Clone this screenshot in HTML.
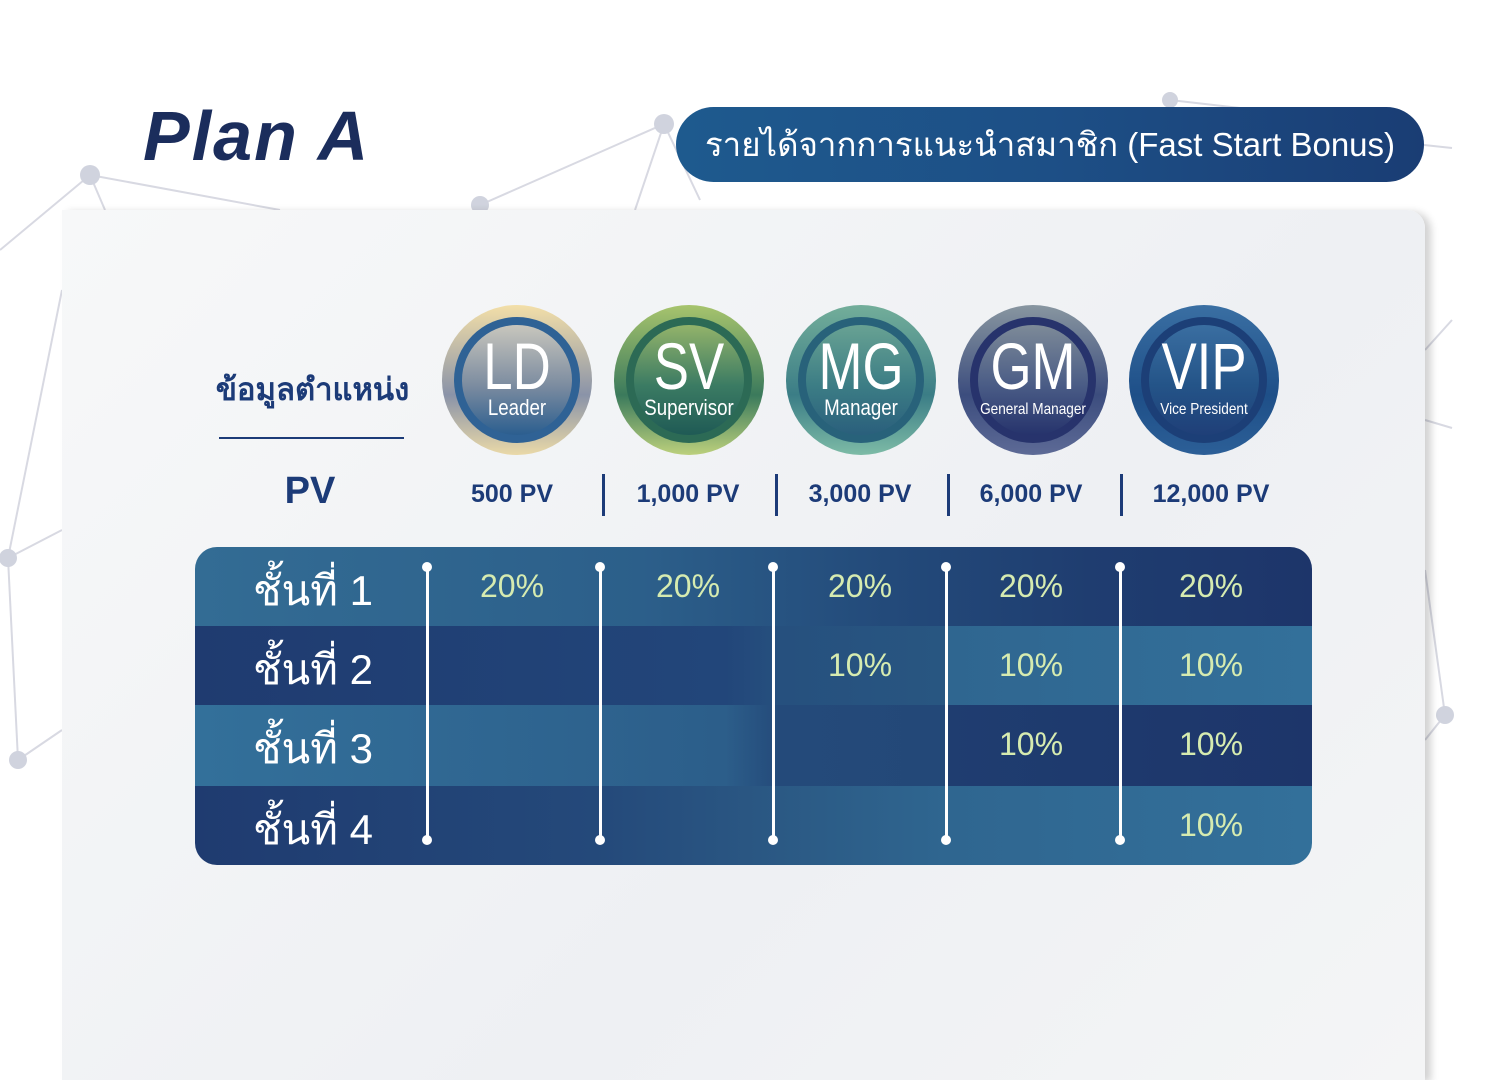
<!DOCTYPE html>
<html><head><meta charset="utf-8">
<style>
*{margin:0;padding:0;box-sizing:border-box}
body{width:1500px;height:1060px;overflow:hidden;background:#fff;position:relative;font-family:"Liberation Sans","DejaVu Sans",sans-serif}
.abs{position:absolute}
#title{left:143px;top:96px;font-size:70px;font-weight:bold;font-style:italic;color:#1b2d5c;letter-spacing:2px}
#pill{left:676px;top:107px;width:748px;height:75px;border-radius:38px;background:linear-gradient(90deg,#1e5a8e,#1d4f86 50%,#1a3d74);color:#fff;font-size:33px;line-height:75px;text-align:center}
#card{left:62px;top:210px;width:1363px;height:870px;border-radius:0 18px 0 0;background:linear-gradient(135deg,#f7f8f9,#eef0f3 60%,#f4f5f6);box-shadow:6px 2px 8px rgba(0,0,0,.18)}
#poslabel{left:200px;top:364px;width:225px;text-align:center;font-size:31px;font-weight:bold;color:#1c3b78}
#uline{left:219px;top:437px;width:185px;height:2px;background:#1c3b78}
#pv{left:260px;top:470px;width:100px;text-align:center;font-size:38px;font-weight:bold;color:#1c3b78}
.pvl{top:480px;width:160px;text-align:center;font-size:25px;font-weight:bold;color:#1c3b78}
.sep{top:474px;width:3px;height:42px;background:#1c3b78}
.badge{width:150px;height:150px;border-radius:50%}
.ring{position:absolute;left:12px;top:12px;width:126px;height:126px;border-radius:50%}
.inner{position:absolute;left:20px;top:20px;width:110px;height:110px;border-radius:50%}
.big{position:absolute;left:0;width:150px;text-align:center;color:#fff;top:26px;font-size:66px;line-height:70px;transform:scaleX(.8)}
.small{position:absolute;left:0;width:150px;text-align:center;color:#fff;top:90px;font-size:22px;transform:scaleX(.85)}
#table{left:195px;top:547px;width:1117px;height:318px;border-radius:22px;overflow:hidden}
.cell{position:absolute}
.rl{color:#fff;font-size:42px;left:58px}
.pct{color:#d6ebb0;font-size:32px;width:160px;text-align:center}
.vl{width:3px;background:#fff}
.dot{width:10px;height:10px;border-radius:50%;background:#fff}
</style></head><body>
<svg class="abs" width="1500" height="1060" style="left:0;top:0">
<g stroke="#d8d9e2" stroke-width="2" fill="none">
<line x1="0" y1="250" x2="90" y2="175"/><line x1="90" y1="175" x2="280" y2="210"/><line x1="90" y1="175" x2="105" y2="210"/>
<line x1="480" y1="205" x2="664" y2="124"/><line x1="664" y1="124" x2="635" y2="210"/><line x1="664" y1="124" x2="700" y2="200"/>
<line x1="1170" y1="100" x2="1240" y2="108"/><line x1="1424" y1="145" x2="1452" y2="148"/>
<line x1="8" y1="558" x2="62" y2="530"/><line x1="8" y1="558" x2="62" y2="290"/><line x1="8" y1="558" x2="18" y2="760"/><line x1="18" y1="760" x2="62" y2="730"/>
<line x1="1425" y1="570" x2="1445" y2="715"/><line x1="1445" y1="715" x2="1425" y2="740"/><line x1="1425" y1="350" x2="1452" y2="320"/><line x1="1425" y1="420" x2="1452" y2="428"/>
</g>
<g fill="#d0d3de"><circle cx="90" cy="175" r="10"/><circle cx="664" cy="124" r="10"/><circle cx="480" cy="205" r="9"/><circle cx="8" cy="558" r="9"/><circle cx="18" cy="760" r="9"/><circle cx="1445" cy="715" r="9"/><circle cx="1170" cy="100" r="8"/></g>
</svg>
<div id="title" class="abs">Plan A</div>
<div id="pill" class="abs">รายได้จากการแนะนำสมาชิก (Fast Start Bonus)</div>
<div id="card" class="abs"></div>
<div id="poslabel" class="abs">ข้อมูลตำแหน่ง</div>
<div id="uline" class="abs"></div>
<div id="pv" class="abs">PV</div>
<div id="badges"></div>
<div id="table" class="abs"></div>
<script>
const positions=["LD","SV","MG","GM","VIP"];
const positionNames=["Leader","Supervisor","Manager","General Manager","Vice President"];
const pvValues=["500 PV","1,000 PV","3,000 PV","6,000 PV","12,000 PV"];
const rowLabels=["ชั้นที่ 1","ชั้นที่ 2","ชั้นที่ 3","ชั้นที่ 4"];
const tier1=[20,20,20,20,20];
const tier2=[null,null,10,10,10];
const tier3=[null,null,null,10,10];
const tier4=[null,null,null,null,10];
const tiers=[tier1,tier2,tier3,tier4];

const colX=[517,689,861,1033,1204];
const pvX=[512,688,860,1031,1211];
const lineX=[427,600,773,946,1120];
const grads=[
 ["linear-gradient(180deg,#f3dfa8,#8a93a8 60%,#ead9a8)","#2f6295","linear-gradient(180deg,#c8c6bd,#7c8ca0 55%,#2b5e8f)"],
 ["linear-gradient(180deg,#a7c46d,#3b7a5c 60%,#bcd07c)","#2c6a55","linear-gradient(180deg,#93b36a,#3b7b63 55%,#1f5a55)"],
 ["linear-gradient(180deg,#73ae9a,#3b7d86 60%,#7dbba6)","#28627a","linear-gradient(180deg,#68a293,#3c7d85 55%,#2a5f7c)"],
 ["linear-gradient(180deg,#8896a0,#3c4d7e 60%,#5d6a96)","#27336c","linear-gradient(180deg,#7d8a98,#4a5c86 55%,#26336c)"],
 ["linear-gradient(180deg,#3a6fa3,#1e4f88 60%,#2c5f97)","#1c3f77","linear-gradient(180deg,#3a6ea1,#245488 55%,#1f3f78)"]
];
const B=document.getElementById('badges');
positions.forEach((p,i)=>{
 const b=document.createElement('div');
 b.className='abs badge';
 
 
 b.style.left=(colX[i]-75)+'px';b.style.top='305px';b.style.background=grads[i][0];
 b.innerHTML='<div class="ring" style="background:'+grads[i][1]+'"></div><div class="inner" style="background:'+grads[i][2]+'"></div><div class="big">'+p+'</div><div class="small" style="'+(i>=3?'font-size:16px;top:96px':'')+'">'+positionNames[i]+'</div>';
 B.appendChild(b);
 const l=document.createElement('div');
 l.className='abs pvl';
 
 
 l.style.left=(pvX[i]-80)+'px';l.textContent=pvValues[i];
 B.appendChild(l);
 if(i<4){const s=document.createElement('div');s.className='abs sep';
 
 
 s.style.left=[602,775,947,1120][i]+'px';B.appendChild(s);}
});
const T=document.getElementById('table');
const rowTop=[0,79,158,239,318];
const rowBg=[
 'linear-gradient(90deg,#336c94,#2c5f8a 40%,#234a7a 62%,#1f3d70 80%,#1d356a)',
 'linear-gradient(90deg,#1f3b70,#22467a 530px,#26507e 585px,#285681 750px,#2f6690 752px,#33709a)',
 'linear-gradient(90deg,#33709a,#2c5e8a 530px,#244a7a 585px,#234878 750px,#1f3d70 752px,#1d356a)',
 'linear-gradient(90deg,#1f3b70,#24497a 400px,#2b5984 585px,#2f6690 752px,#33709a)'
];
rowLabels.forEach((r,j)=>{
 const row=document.createElement('div');
 row.className='cell';
 
 
 row.style.cssText='left:0;width:1117px;top:'+rowTop[j]+'px;height:'+(rowTop[j+1]-rowTop[j])+'px;background:'+rowBg[j];
 T.appendChild(row);
 const lab=document.createElement('div');
 lab.className='cell rl';
 
 
 lab.style.top=(rowTop[j]+11)+'px';lab.textContent=r;
 T.appendChild(lab);
 tiers[j].forEach((v,i)=>{
  if(v==null)return;
  const c=document.createElement('div');
  c.className='cell pct';
  
  
  c.style.left=(pvX[i]-195-80)+'px';c.style.top=(rowTop[j]+21)+'px';
  c.textContent=v+'%';
  T.appendChild(c);
 });
});
lineX.forEach((x,i)=>{
 const l=document.createElement('div');l.className='cell vl';
 
 
 l.style.left=(x-195-1)+'px';l.style.top='20px';l.style.height='273px';T.appendChild(l);
 [20,293].forEach(y=>{const d=document.createElement('div');d.className='cell dot';
 
 
 d.style.left=(x-195-5)+'px';d.style.top=(y-5)+'px';T.appendChild(d);});
});
</script>
</body></html>
